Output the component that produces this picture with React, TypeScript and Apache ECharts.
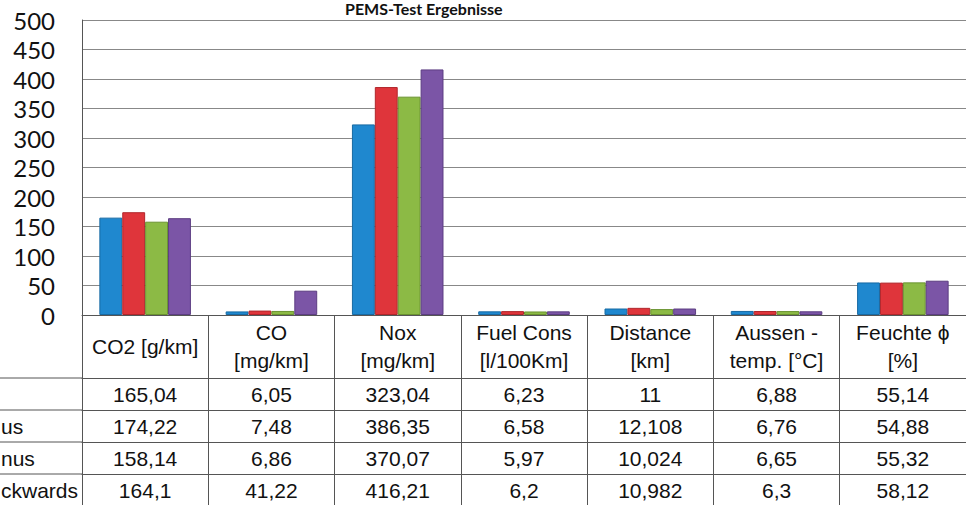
import React, { useEffect, useRef } from "react";
import * as echarts from "echarts";

const title = "PEMS-Test Ergebnisse";
const categories = [
  "CO2 [g/km]",
  "CO\n[mg/km]",
  "Nox\n[mg/km]",
  "Fuel Cons\n[l/100Km]",
  "Distance\n[km]",
  "Aussen -\ntemp. [°C]",
  "Feuchte ϕ\n[%]",
];
// row labels of the data table, as far as they are visible (cut at the left edge)
const rowLabels = ["", "us", "nus", "ckwards"];
const run1 = [165.04, 6.05, 323.04, 6.23, 11, 6.88, 55.14];
const run2 = [174.22, 7.48, 386.35, 6.58, 12.108, 6.76, 54.88];
const run3 = [158.14, 6.86, 370.07, 5.97, 10.024, 6.65, 55.32];
const run4 = [164.1, 41.22, 416.21, 6.2, 10.982, 6.3, 58.12];
const yTicks = { min: 0, max: 500, interval: 50 };

const colors = ["#1f88cf", "#df353b", "#8cba45", "#7b55a6"];
const borders = ["#176aa3", "#b0262b", "#6a9330", "#5c3d82"];

const W = 966;
const H = 505;
const GRID_LEFT = 82;
const GRID_TOP = 20;
const AXIS_Y = 315;
const HEADER_H = 63;
const ROW_H = 32;
const TABLE_FONT = "'Liberation Sans', Arial, sans-serif";
const TABLE_SIZE = 21;
const LINE_COLOR = "#555";

const fmt = (v: number) => String(v).replace(".", ",");

export default function App() {
  const ref = useRef<HTMLDivElement>(null);
  useEffect(() => {
    if (!ref.current) return;
    const chart = echarts.init(ref.current, undefined, { renderer: "svg" });
    const runs = [run1, run2, run3, run4];

    const rowAxes = runs.map((r, i) => ({
      type: "category" as const,
      gridIndex: 0,
      position: "bottom" as const,
      offset: HEADER_H + ROW_H * i,
      data: r.map(fmt),
      axisLine: { show: true, lineStyle: { color: LINE_COLOR, width: 1 } },
      axisTick: { show: false },
      splitLine: { show: false },
      axisLabel: {
        interval: 0,
        margin: ROW_H / 2,
        verticalAlign: "middle" as const,
        fontSize: TABLE_SIZE,
        fontFamily: TABLE_FONT,
        color: "#111",
      },
    }));

    const graphics: any[] = [];
    runs.forEach((_, i) => {
      const y = AXIS_Y + HEADER_H + ROW_H * i;
      graphics.push({
        type: "line",
        shape: { x1: 0, y1: y, x2: GRID_LEFT, y2: y },
        style: { stroke: LINE_COLOR, lineWidth: 1 },
        silent: true,
      });
      if (rowLabels[i]) {
        graphics.push({
          type: "text",
          x: 1,
          y: y + ROW_H / 2,
          style: {
            text: rowLabels[i],
            fontSize: TABLE_SIZE,
            fontFamily: TABLE_FONT,
            fill: "#111",
            textAlign: "left",
            textVerticalAlign: "middle",
          },
          silent: true,
        });
      }
    });

    chart.setOption({
      animation: false,
      backgroundColor: "#fff",
      title: {
        text: title,
        left: 345,
        top: 0,
        padding: 0,
        textStyle: { fontSize: 16, fontWeight: "bold", fontFamily: "Lato, 'Open Sans', sans-serif", color: "#111" },
      },
      grid: { left: GRID_LEFT, right: -5, top: GRID_TOP, bottom: H - AXIS_Y, containLabel: false },
      xAxis: [
        {
          type: "category",
          data: categories,
          position: "bottom",
          axisLine: { show: true, lineStyle: { color: LINE_COLOR, width: 1 } },
          axisTick: { show: true, length: H - AXIS_Y, interval: 0, lineStyle: { color: LINE_COLOR, width: 1 } },
          axisLabel: {
            interval: 0,
            margin: HEADER_H / 2,
            verticalAlign: "middle",
            lineHeight: 28,
            fontSize: TABLE_SIZE,
            fontFamily: TABLE_FONT,
            color: "#111",
          },
        },
        ...rowAxes,
      ],
      yAxis: {
        type: "value",
        min: yTicks.min,
        max: yTicks.max,
        interval: yTicks.interval,
        axisLine: { show: true, lineStyle: { color: LINE_COLOR, width: 1 } },
        axisTick: { show: false },
        splitLine: { show: true, lineStyle: { color: "#888", width: 1 } },
        axisLabel: {
          margin: 27,
          fontSize: 24,
          fontFamily: "Lato, 'Open Sans', sans-serif",
          color: "#111",
        },
      },
      series: runs.map((r, i) => ({
        type: "bar",
        name: "Run " + (i + 1),
        data: r,
        barGap: "0%",
        barCategoryGap: "27.5%",
        itemStyle: { color: colors[i], borderColor: borders[i], borderWidth: 1 },
      })),
      graphic: graphics,
    });
    return () => chart.dispose();
  }, []);
  return (
    <div
      ref={ref}
      style={{ position: "fixed", left: 0, top: 0, width: W, height: H, background: "#fff" }}
    />
  );
}
